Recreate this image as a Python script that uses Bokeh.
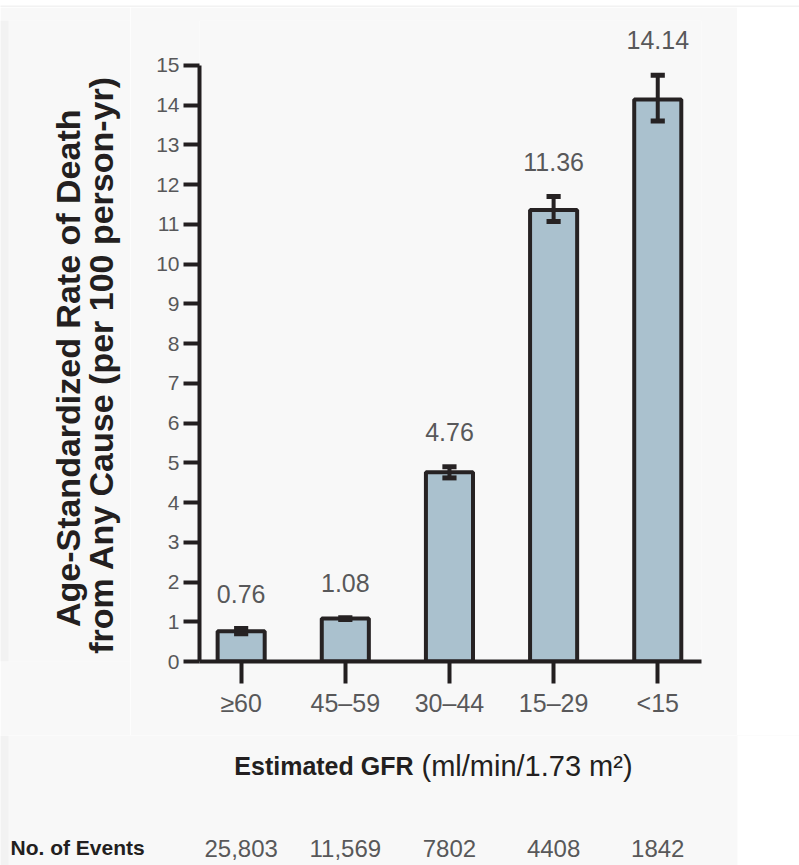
import math

from bokeh.plotting import figure
from bokeh.layouts import column, row
from bokeh.models import Range1d, FixedTicker, ColumnDataSource
from bokeh.core.properties import value
from bokeh.embed import file_html
from bokeh.resources import INLINE

# ---- data ---------------------------------------------------------------
categories = ["≥60", "45–59", "30–44", "15–29", "<15"]
death_rate = [0.76, 1.08, 4.76, 11.36, 14.14]
ci_lower = [0.70, 1.06, 4.62, 11.07, 13.60]
ci_upper = [0.83, 1.10, 4.90, 11.70, 14.75]
rate_labels = ["0.76", "1.08", "4.76", "11.36", "14.14"]
event_counts = ["25,803", "11,569", "7802", "4408", "1842"]
y_ticks = list(range(0, 16))

# ---- page geometry (pixels) --------------------------------------------
W, H = 799, 865
TOP_STRIP = 7           # thin grey band across the top
EDGE_W = 8              # thin grey band down the left side
PANEL_RIGHT = 737       # light panel ends here, white beyond
LEFT_W = 130            # column holding the rotated y title
MID_BOTTOM = 735        # where the chart row ends and the footer starts
FRAME_L, FRAME_R, FRAME_T, FRAME_B = 199, 701, 20, 661
X0, X1 = -0.4, 4.42
Y0, Y1 = 0.0, 16.13
XSCALE = (FRAME_R - FRAME_L) / (X1 - X0)

DARK = "#231f20"
GREY = "#58585a"
BAR_LINE = "#262223"
BAR_FILL = "#aac1ce"
PANEL = "#f8f8f8"
EDGE = "#f2f2f2"
FONT = "Liberation Sans"


def plain_fig(w, h, xr, yr, bg):
    f = figure(width=w, height=h, x_range=xr, y_range=yr,
               output_backend="svg", toolbar_location=None, title=None,
               min_border=0, x_axis_location=None, y_axis_location=None)
    f.grid.visible = False
    f.outline_line_color = None
    f.background_fill_color = bg
    f.border_fill_color = bg
    return f


# ---- top strip ----------------------------------------------------------
top = plain_fig(W, TOP_STRIP, Range1d(0, W), Range1d(0, 1), EDGE)

# ---- left column: y axis title -----------------------------------------
# rotated text is anchored about 32 px above its requested centre, so the
# anchor is pushed down by that amount
ROT_SHIFT = 32
left = plain_fig(LEFT_W, MID_BOTTOM - TOP_STRIP, Range1d(0, LEFT_W),
                 Range1d(-MID_BOTTOM, -TOP_STRIP), PANEL)
left.quad(left=0, right=EDGE_W, bottom=-MID_BOTTOM, top=-TOP_STRIP,
          fill_color=EDGE, line_color=None)
left.text(x=[67, 100], y=[-(370 + ROT_SHIFT), -(366 + ROT_SHIFT)],
          text=["Age-Standardized Rate of Death", "from Any Cause (per 100 person-yr)"],
          angle=math.pi / 2, text_font=value(FONT), text_font_style="bold",
          text_font_size="34px", text_color=DARK,
          text_align="center", text_baseline="middle")

# ---- main chart ---------------------------------------------------------
xs = list(range(len(categories)))
cap_half = 0.068
src = ColumnDataSource(dict(
    x=xs,
    rate=death_rate,
    lo=ci_lower,
    hi=ci_upper,
    cap_l=[x - cap_half for x in xs],
    cap_r=[x + cap_half for x in xs],
    label=rate_labels,
    label_y=[h + 0.88 for h in ci_upper],
))

main_w = PANEL_RIGHT - LEFT_W
main_h = MID_BOTTOM - TOP_STRIP
p = figure(width=main_w, height=main_h,
           x_range=Range1d(X0, X1), y_range=Range1d(Y0, Y1),
           output_backend="svg", toolbar_location=None, title=None)
p.min_border_left = FRAME_L - LEFT_W
p.min_border_right = PANEL_RIGHT - FRAME_R
p.min_border_top = FRAME_T - TOP_STRIP
p.min_border_bottom = MID_BOTTOM - FRAME_B
p.border_fill_color = PANEL
p.background_fill_color = PANEL
p.outline_line_color = None
p.xgrid.visible = False
p.ygrid.visible = False

p.vbar(x="x", top="rate", bottom=0, width=0.452, source=src,
       fill_color=BAR_FILL, line_color=BAR_LINE, line_width=4)

# confidence intervals
p.segment(x0="x", y0="lo", x1="x", y1="hi", source=src,
          line_color=BAR_LINE, line_width=4, line_cap="butt")
p.segment(x0="cap_l", y0="hi", x1="cap_r", y1="hi", source=src,
          line_color=BAR_LINE, line_width=5, line_cap="butt")
p.segment(x0="cap_l", y0="lo", x1="cap_r", y1="lo", source=src,
          line_color=BAR_LINE, line_width=5, line_cap="butt")

# value labels above the bars
p.text(x="x", y="label_y", text="label", source=src,
       text_font=value(FONT), text_font_size="25px", text_color=GREY,
       text_align="center", text_baseline="middle")

xa = p.xaxis[0]
xa.ticker = FixedTicker(ticks=xs)
xa.major_label_overrides = {i: c for i, c in zip(xs, categories)}
xa.axis_line_width = 4
xa.axis_line_color = DARK
xa.major_tick_line_width = 4
xa.major_tick_line_color = DARK
xa.major_tick_in = 0
xa.major_tick_out = 22
xa.minor_tick_line_color = None
xa.major_label_standoff = 5
xa.major_label_text_font = FONT
xa.major_label_text_font_size = "25px"
xa.major_label_text_color = GREY

ya = p.yaxis[0]
ya.ticker = FixedTicker(ticks=y_ticks)
ya.bounds = (0, 15)
ya.axis_line_width = 4
ya.axis_line_color = DARK
ya.major_tick_line_width = 4
ya.major_tick_line_color = DARK
ya.major_tick_in = 0
ya.major_tick_out = 16
ya.minor_tick_line_color = None
ya.major_label_standoff = 4
ya.major_label_text_font = FONT
ya.major_label_text_font_size = "21px"
ya.major_label_text_color = GREY

# ---- right margin (white) ----------------------------------------------
right = plain_fig(W - PANEL_RIGHT, main_h, Range1d(0, 1), Range1d(0, 1), "#ffffff")

# ---- footer: x axis title and event counts -----------------------------
foot_h = H - MID_BOTTOM
fx0 = X0 - FRAME_L / XSCALE
fx1 = X1 + (W - FRAME_R) / XSCALE
foot = plain_fig(W, foot_h, Range1d(fx0, fx1), Range1d(-H, -MID_BOTTOM), PANEL)


def fx(px):
    """page column -> footer x (same units as the chart's x axis)"""
    return fx0 + px / XSCALE


foot.quad(left=fx(0), right=fx(EDGE_W), bottom=-H, top=-MID_BOTTOM,
          fill_color=EDGE, line_color=None)
foot.quad(left=fx(PANEL_RIGHT), right=fx(W), bottom=-H, top=-MID_BOTTOM,
          fill_color="#ffffff", line_color=None)

foot.text(x=[fx(413)], y=[-765], text=["Estimated GFR"],
          text_font=value(FONT), text_font_style="bold", text_font_size="25px",
          text_color=DARK, text_align="right", text_baseline="middle")
foot.text(x=[fx(421)], y=[-765], text=["(ml/min/1.73 m²)"],
          text_font=value(FONT), text_font_size="29px",
          text_color=DARK, text_align="left", text_baseline="middle")

foot.text(x=[fx(10)], y=[-847], text=["No. of Events"],
          text_font=value(FONT), text_font_style="bold", text_font_size="21px",
          text_color=DARK, text_align="left", text_baseline="middle")
foot.text(x=xs, y=[-848] * len(xs), text=event_counts,
          text_font=value(FONT), text_font_size="24px",
          text_color=GREY, text_align="center", text_baseline="middle")

layout = column(top, row(left, p, right), foot)

with open("out.html", "w") as f:
    f.write(file_html(layout, INLINE))
